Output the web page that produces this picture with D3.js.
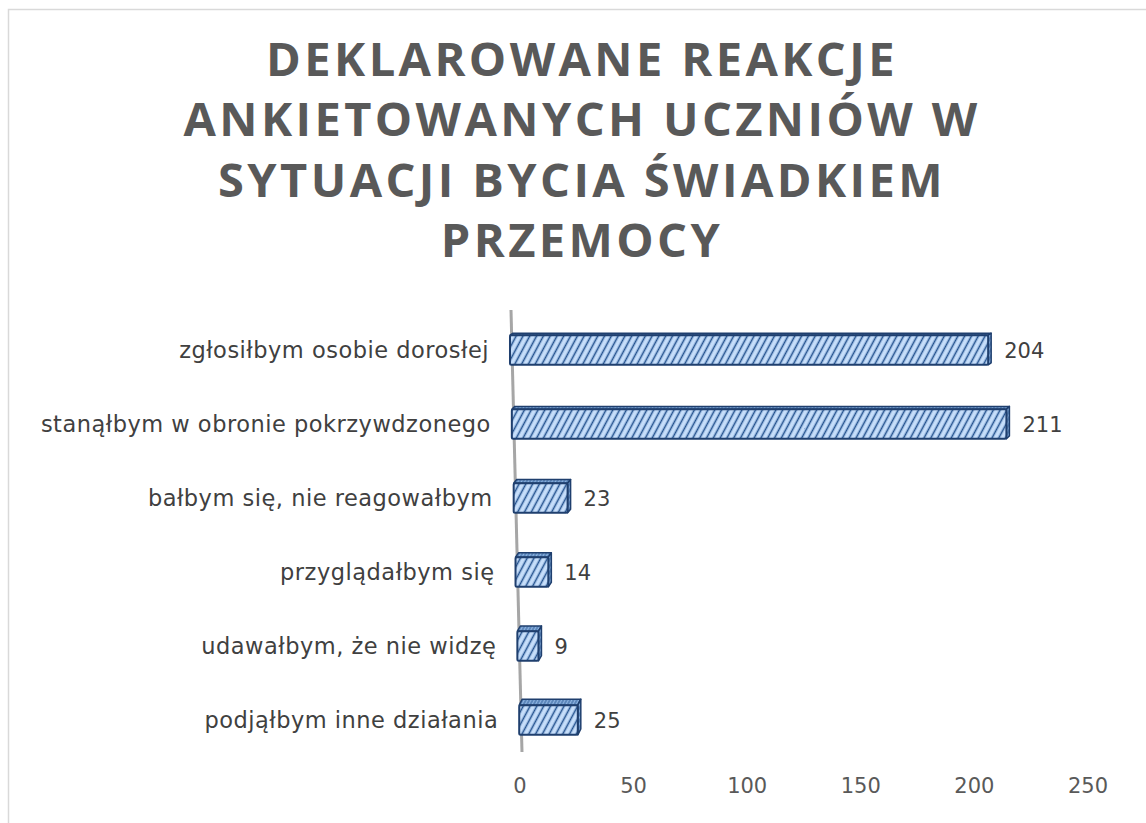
<!DOCTYPE html>
<html>
<head>
<meta charset="utf-8">
<script src="https://cdnjs.cloudflare.com/ajax/libs/d3/7.8.5/d3.min.js"></script>
<style>
body{margin:0;background:#fff;}
text{font-family:'DejaVu Sans',sans-serif;}
</style>
</head>
<body>
<div id="root"></div>
<script>
// data
var categories=['zgłosiłbym osobie dorosłej','stanąłbym w obronie pokrzywdzonego','bałbym się, nie reagowałbym','przyglądałbym się','udawałbym, że nie widzę','podjąłbym inne działania'];
var values=[204,211,23,14,9,25];
var ticks=[0,50,100,150,200,250];
var titleLines=['DEKLAROWANE REAKCJE','ANKIETOWANYCH UCZNIÓW W','SYTUACJI BYCIA ŚWIADKIEM','PRZEMOCY'];

var W=1146,H=823;

var svg=d3.select('#root').append('svg')
	.attr('width',W)
	.attr('height',H);

// chart frame
svg.append('rect').attr('x',8.5).attr('y',9.5).attr('width',W+10).attr('height',H+10)
	.attr('fill','#fff').attr('stroke','#d9d9d9').attr('stroke-width',1.5);

// title
svg.append('g').selectAll('text').data(titleLines).enter().append('text')
	.attr('x',582).attr('y',function(d,i){return 76+i*60.3})
	.attr('text-anchor','middle')
	.style('font-family',"'Open Sans',sans-serif")
	.attr('font-size',47).attr('font-weight','bold')
	.attr('letter-spacing',3.4)
	.attr('fill','#595959')
	.text(function(d){return d});

// hatch pattern
var defs=svg.append('defs');
var pat=defs.append('pattern').attr('id','hatch').attr('patternUnits','userSpaceOnUse')
	.attr('width',6).attr('height',6).attr('patternTransform','rotate(28)');
pat.append('rect').attr('width',6).attr('height',6).attr('fill','#c6defa');
pat.append('line').attr('x1',1.5).attr('y1',0).attr('x2',1.5).attr('y2',6).attr('stroke','#24538f').attr('stroke-width',1.6);

var pat2=defs.append('pattern').attr('id','hatchTop').attr('patternUnits','userSpaceOnUse')
	.attr('width',3).attr('height',3).attr('patternTransform','rotate(28)');
pat2.append('rect').attr('width',3).attr('height',3).attr('fill','#8fb4e0');
pat2.append('line').attr('x1',1).attr('y1',0).attr('x2',1).attr('y2',3).attr('stroke','#2a5a96').attr('stroke-width',1);

// scales
var y=d3.scaleBand().domain(categories).range([313,757]).paddingInner(0.6).paddingOuter(0.3);
var len=d3.scaleLinear().domain([0,250]).range([0,586]);
var tickX=d3.scaleLinear().domain([0,250]).range([520,1088]);
var slant=d3.scaleLinear().domain([310,752]).range([511,522]); // tilted value axis
var depth=d3.scaleLinear().domain([0,categories.length-1]).range([2,6]);

var g=svg.append('g');

// slanted axis line
g.append('line').attr('x1',slant(310)).attr('y1',310).attr('x2',slant(752)).attr('y2',752)
	.attr('stroke','#a6a6a6').attr('stroke-width',3);

var rows=categories.map(function(c,i){return {cat:c,val:values[i],i:i}});

var bars=g.selectAll('.bar').data(rows).enter().append('g').attr('class','bar');

function x0(d){return slant(y(d.cat)+y.bandwidth()/2)-2}
function x1(d){return x0(d)+len(d.val)}

// top face
bars.append('path').attr('d',function(d){
		var t=y(d.cat),dy=depth(d.i),dx=3;
		return 'M'+x0(d)+','+t+'L'+(x0(d)+dx)+','+(t-dy)+'L'+(x1(d)+dx)+','+(t-dy)+'L'+x1(d)+','+t+'Z';
	})
	.attr('fill','url(#hatchTop)').attr('stroke','#1f3f6e').attr('stroke-width',1.5).attr('stroke-linejoin','round');
// right face
bars.append('path').attr('d',function(d){
		var t=y(d.cat),hh=y.bandwidth(),dy=depth(d.i),dx=3;
		return 'M'+x1(d)+','+t+'L'+(x1(d)+dx)+','+(t-dy)+'L'+(x1(d)+dx)+','+(t+hh-dy)+'L'+x1(d)+','+(t+hh)+'Z';
	})
	.attr('fill','url(#hatchTop)').attr('stroke','#1f3f6e').attr('stroke-width',1.5).attr('stroke-linejoin','round');
// front face
bars.append('rect')
	.attr('x',x0).attr('y',function(d){return y(d.cat)})
	.attr('width',function(d){return len(d.val)}).attr('height',y.bandwidth())
	.attr('rx',1.5)
	.attr('fill','url(#hatch)').attr('stroke','#1f3f6e').attr('stroke-width',2);

// value labels
bars.append('text')
	.attr('x',function(d){return x1(d)+16}).attr('y',function(d){return y(d.cat)+y.bandwidth()/2+8})
	.attr('font-size',21).attr('fill','#404040')
	.text(function(d){return d.val});

// category labels
g.selectAll('.cat').data(rows).enter().append('text').attr('class','cat')
	.attr('x',function(d){return slant(y(d.cat)+y.bandwidth()/2)-23})
	.attr('y',function(d){return y(d.cat)+y.bandwidth()/2+8})
	.attr('text-anchor','end')
	.attr('font-size',22.5).attr('letter-spacing',0.5).attr('fill','#404040')
	.text(function(d){return d.cat});

// value axis tick labels
g.selectAll('.tick').data(ticks).enter().append('text').attr('class','tick')
	.attr('x',function(d){return tickX(d)}).attr('y',793)
	.attr('text-anchor','middle')
	.attr('font-size',21).attr('fill','#595959')
	.text(function(d){return d});
</script>
</body>
</html>
